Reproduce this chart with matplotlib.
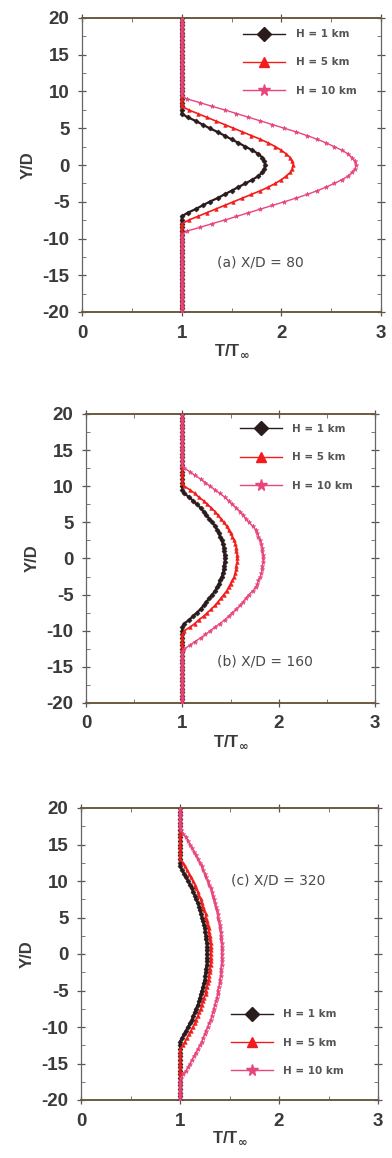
import numpy as np
import matplotlib
matplotlib.use("Agg")
import matplotlib.pyplot as plt
from matplotlib.ticker import MultipleLocator
from matplotlib.lines import Line2D

plt.rcParams['font.family'] = ['Liberation Sans', 'DejaVu Sans']
plt.rcParams['axes.unicode_minus'] = False

# Y/D grid (step 0.5 from -20 to 20)
y_vals = np.linspace(-20, 20, 81)

series_labels = ["H = 1 km", "H = 5 km", "H = 10 km"]

# Panel (a) X/D = 80
a_h1 = [1.0, 1.0, 1.0, 1.0, 1.0, 1.0, 1.0, 1.0, 1.0,
        1.0, 1.0, 1.0, 1.0, 1.0, 1.0, 1.0, 1.0, 1.0,
        1.0, 1.0, 1.0, 1.0, 1.0, 1.0, 1.0, 1.0, 1.0,
        1.06, 1.14, 1.21, 1.28, 1.36, 1.43, 1.50, 1.57, 1.64, 1.71, 1.77, 1.81, 1.83,
        1.84,
        1.83, 1.81, 1.77, 1.71, 1.64, 1.57, 1.50, 1.43, 1.36, 1.28, 1.21, 1.14, 1.06,
        1.0, 1.0, 1.0, 1.0, 1.0, 1.0, 1.0, 1.0, 1.0,
        1.0, 1.0, 1.0, 1.0, 1.0, 1.0, 1.0, 1.0, 1.0,
        1.0, 1.0, 1.0, 1.0, 1.0, 1.0, 1.0, 1.0, 1.0]
a_h5 = [1.0, 1.0, 1.0, 1.0, 1.0, 1.0, 1.0, 1.0, 1.0, 1.0,
        1.0, 1.0, 1.0, 1.0, 1.0, 1.0, 1.0, 1.0, 1.0, 1.0,
        1.0, 1.0, 1.0, 1.0, 1.0,
        1.07, 1.16, 1.25, 1.34, 1.43, 1.52, 1.61, 1.70, 1.79, 1.87, 1.94, 2.00, 2.05, 2.09, 2.11,
        2.12,
        2.11, 2.09, 2.05, 2.00, 1.94, 1.87, 1.79, 1.70, 1.61, 1.52, 1.43, 1.34, 1.25, 1.16, 1.07,
        1.0, 1.0, 1.0, 1.0, 1.0, 1.0, 1.0, 1.0, 1.0, 1.0,
        1.0, 1.0, 1.0, 1.0, 1.0, 1.0, 1.0, 1.0, 1.0, 1.0,
        1.0, 1.0, 1.0, 1.0, 1.0]
a_h10 = [1.0, 1.0, 1.0, 1.0, 1.0, 1.0, 1.0, 1.0, 1.0, 1.0, 1.0,
         1.0, 1.0, 1.0, 1.0, 1.0, 1.0, 1.0, 1.0, 1.0, 1.0, 1.0,
         1.05, 1.18, 1.30, 1.43, 1.55, 1.67, 1.79, 1.91, 2.03, 2.15, 2.26, 2.36, 2.45, 2.53,
         2.61, 2.67, 2.71, 2.74,
         2.75,
         2.74, 2.71, 2.67, 2.61, 2.53, 2.45, 2.36, 2.26, 2.15, 2.03, 1.91, 1.79, 1.67, 1.55,
         1.43, 1.30, 1.18, 1.05,
         1.0, 1.0, 1.0, 1.0, 1.0, 1.0, 1.0, 1.0, 1.0, 1.0, 1.0,
         1.0, 1.0, 1.0, 1.0, 1.0, 1.0, 1.0, 1.0, 1.0, 1.0, 1.0]

# Panel (b) X/D = 160
b_h1 = [1.0, 1.0, 1.0, 1.0, 1.0, 1.0, 1.0, 1.0, 1.0, 1.0, 1.0,
        1.0, 1.0, 1.0, 1.0, 1.0, 1.0, 1.0, 1.0, 1.0, 1.0, 1.0,
        1.02, 1.07, 1.11, 1.15, 1.19, 1.22, 1.25, 1.28, 1.31, 1.34, 1.36, 1.38, 1.39, 1.41,
        1.42, 1.43, 1.43, 1.44,
        1.44,
        1.44, 1.43, 1.43, 1.42, 1.41, 1.39, 1.38, 1.36, 1.34, 1.31, 1.28, 1.25, 1.22, 1.19,
        1.15, 1.11, 1.07, 1.02,
        1.0, 1.0, 1.0, 1.0, 1.0, 1.0, 1.0, 1.0, 1.0, 1.0, 1.0,
        1.0, 1.0, 1.0, 1.0, 1.0, 1.0, 1.0, 1.0, 1.0, 1.0, 1.0]
b_h5 = [1.0, 1.0, 1.0, 1.0, 1.0, 1.0, 1.0, 1.0, 1.0, 1.0,
        1.0, 1.0, 1.0, 1.0, 1.0, 1.0, 1.0, 1.0, 1.0, 1.0,
        1.02, 1.08, 1.13, 1.17, 1.22, 1.26, 1.30, 1.34, 1.37, 1.40, 1.43, 1.46, 1.48, 1.50,
        1.52, 1.54, 1.55, 1.56, 1.56, 1.57,
        1.57,
        1.57, 1.56, 1.56, 1.55, 1.54, 1.52, 1.50, 1.48, 1.46, 1.43, 1.40, 1.37, 1.34, 1.30,
        1.26, 1.22, 1.17, 1.13, 1.08, 1.02,
        1.0, 1.0, 1.0, 1.0, 1.0, 1.0, 1.0, 1.0, 1.0, 1.0,
        1.0, 1.0, 1.0, 1.0, 1.0, 1.0, 1.0, 1.0, 1.0, 1.0]
b_h10 = [1.0, 1.0, 1.0, 1.0, 1.0, 1.0, 1.0, 1.0,
         1.0, 1.0, 1.0, 1.0, 1.0, 1.0, 1.0,
         1.02, 1.08, 1.13, 1.19, 1.24, 1.29, 1.34, 1.39, 1.44, 1.48, 1.52, 1.56, 1.60,
         1.63, 1.66, 1.69, 1.73, 1.76, 1.78, 1.79, 1.81, 1.82, 1.83, 1.83, 1.84,
         1.84,
         1.84, 1.83, 1.83, 1.82, 1.81, 1.79, 1.78, 1.76, 1.73, 1.69, 1.66, 1.63, 1.60,
         1.56, 1.52, 1.48, 1.44, 1.39, 1.34, 1.29, 1.24, 1.19, 1.13, 1.08, 1.02,
         1.0, 1.0, 1.0, 1.0, 1.0, 1.0, 1.0, 1.0,
         1.0, 1.0, 1.0, 1.0, 1.0, 1.0, 1.0]

# Panel (c) X/D = 320
c_h1 = [1.0, 1.0, 1.0, 1.0, 1.0, 1.0, 1.0, 1.0, 1.0,
        1.0, 1.0, 1.0, 1.0, 1.0, 1.0, 1.0, 1.0,
        1.02, 1.04, 1.06, 1.08, 1.10, 1.12, 1.13, 1.15, 1.16, 1.18, 1.19, 1.20, 1.21,
        1.22, 1.23, 1.24, 1.25, 1.25, 1.26, 1.26, 1.27, 1.27, 1.27,
        1.27,
        1.27, 1.27, 1.27, 1.26, 1.26, 1.25, 1.25, 1.24, 1.23, 1.22, 1.21, 1.20, 1.19,
        1.18, 1.16, 1.15, 1.13, 1.12, 1.10, 1.08, 1.06, 1.04, 1.02,
        1.0, 1.0, 1.0, 1.0, 1.0, 1.0, 1.0, 1.0, 1.0,
        1.0, 1.0, 1.0, 1.0, 1.0, 1.0, 1.0, 1.0]
c_h5 = [1.0, 1.0, 1.0, 1.0, 1.0, 1.0, 1.0, 1.0,
        1.0, 1.0, 1.0, 1.0, 1.0, 1.0, 1.0,
        1.03, 1.05, 1.07, 1.09, 1.11, 1.13, 1.15, 1.16, 1.18, 1.19, 1.21, 1.22, 1.23,
        1.24, 1.26, 1.26, 1.27, 1.28, 1.29, 1.29, 1.30, 1.30, 1.31, 1.31, 1.31,
        1.31,
        1.31, 1.31, 1.31, 1.30, 1.30, 1.29, 1.29, 1.28, 1.27, 1.26, 1.26, 1.24, 1.23,
        1.22, 1.21, 1.19, 1.18, 1.16, 1.15, 1.13, 1.11, 1.09, 1.07, 1.05, 1.03,
        1.0, 1.0, 1.0, 1.0, 1.0, 1.0, 1.0, 1.0,
        1.0, 1.0, 1.0, 1.0, 1.0, 1.0, 1.0]
c_h10 = [1.0, 1.0, 1.0, 1.0, 1.0, 1.0,
         1.01, 1.03, 1.06, 1.08, 1.10, 1.12, 1.14, 1.16, 1.18, 1.20, 1.22, 1.23, 1.25,
         1.26, 1.28, 1.29, 1.31, 1.32, 1.33, 1.34, 1.35, 1.36, 1.37, 1.38, 1.38, 1.39,
         1.40, 1.40, 1.41, 1.41, 1.41, 1.42, 1.42, 1.42,
         1.42,
         1.42, 1.42, 1.42, 1.41, 1.41, 1.41, 1.40, 1.40, 1.39, 1.38, 1.38, 1.37, 1.36,
         1.35, 1.34, 1.33, 1.32, 1.31, 1.29, 1.28, 1.26, 1.25, 1.23, 1.22, 1.20, 1.18,
         1.16, 1.14, 1.12, 1.10, 1.08, 1.06, 1.03, 1.01,
         1.0, 1.0, 1.0, 1.0, 1.0, 1.0]

panel_titles = ["(a) X/D = 80", "(b) X/D = 160", "(c) X/D = 320"]
panel_data = [(a_h1, a_h5, a_h10), (b_h1, b_h5, b_h10), (c_h1, c_h5, c_h10)]

x_ticks = [0, 1, 2, 3]
y_ticks = [-20, -15, -10, -5, 0, 5, 10, 15, 20]

line_colors = ['#2a1c1c', '#f21c1c', '#e8457c']
markers = ['D', '^', '*']
mk_sizes = [2.6, 2.6, 3.4]
lws = [1.6, 1.2, 1.0]
leg_ms = [7, 7, 8.5]

fig = plt.figure(figsize=(3.92, 11.58), dpi=100)
W, H = 392.0, 1158.0
# axes pixel boxes (left, top, right, bottom)
boxes = [(82, 18, 381, 312), (86, 414, 375, 703), (81, 808, 378, 1100)]
title_pos = [(1.79, -13.2), (1.86, -14.2), (1.99, 10.1)]
legend_anchor = [(0.54, 0.962), (0.533, 0.965), (0.505, 0.31)]

tick_col = '#3a3a3a'
frame_col = '#6b5c40'

for i, (l, t, r, b) in enumerate(boxes):
    ax = fig.add_axes([l / W, 1 - b / H, (r - l) / W, (b - t) / H])
    for j in range(3):
        ax.plot(panel_data[i][j], y_vals, color=line_colors[j], lw=lws[j],
                marker=markers[j], ms=mk_sizes[j], mew=0.4,
                mec=line_colors[j], mfc=line_colors[j],
                label=series_labels[j], zorder=3 + j)
    ax.set_xlim(0, 3)
    ax.set_ylim(-20, 20)
    ax.set_xticks(x_ticks)
    ax.set_yticks(y_ticks)
    ax.xaxis.set_minor_locator(MultipleLocator(0.5))
    ax.yaxis.set_minor_locator(MultipleLocator(2.5))
    ax.tick_params(which='major', direction='inout', length=6, width=0.9,
                   color='#555555', top=True, right=True,
                   labelsize=13.5, labelcolor=tick_col)
    ax.tick_params(axis='x', which='major', pad=6)
    ax.tick_params(axis='y', which='major', pad=6)
    ax.tick_params(which='minor', direction='in', length=3, width=0.7,
                   color='#777777', top=True, right=True)
    for lab in ax.get_xticklabels() + ax.get_yticklabels():
        lab.set_fontweight('bold')
    for s in ['top', 'bottom']:
        ax.spines[s].set_color(frame_col)
        ax.spines[s].set_linewidth(1.4)
    for s in ['left', 'right']:
        ax.spines[s].set_color('#666666')
        ax.spines[s].set_linewidth(0.9)
    ax.set_xlabel(r'T/T$_{\mathbf{\infty}}$', fontsize=12, fontweight='bold',
                  color=tick_col, labelpad=0)
    ax.set_ylabel('Y/D', fontsize=12, fontweight='bold', color=tick_col, labelpad=5)
    ax.text(title_pos[i][0], title_pos[i][1], panel_titles[i], fontsize=10,
            family=['DejaVu Sans'], color='#4a4a4a', ha='center', va='center')

    handles = []
    for j in range(3):
        handles.append(Line2D([], [], color=line_colors[j], lw=1.0,
                              marker=markers[j], ms=leg_ms[j],
                              mfc=line_colors[j], mec=line_colors[j]))
    leg = ax.legend(handles, series_labels, loc='upper left',
                    bbox_to_anchor=legend_anchor[i], frameon=False,
                    prop={'family': ['DejaVu Sans'], 'size': 7.5, 'weight': 'bold'},
                    handlelength=4.0, handletextpad=1.0,
                    labelspacing=1.75, borderpad=0, borderaxespad=0)
    for txt in leg.get_texts():
        txt.set_color('#555555')

fig.savefig('out.png', dpi=100)
